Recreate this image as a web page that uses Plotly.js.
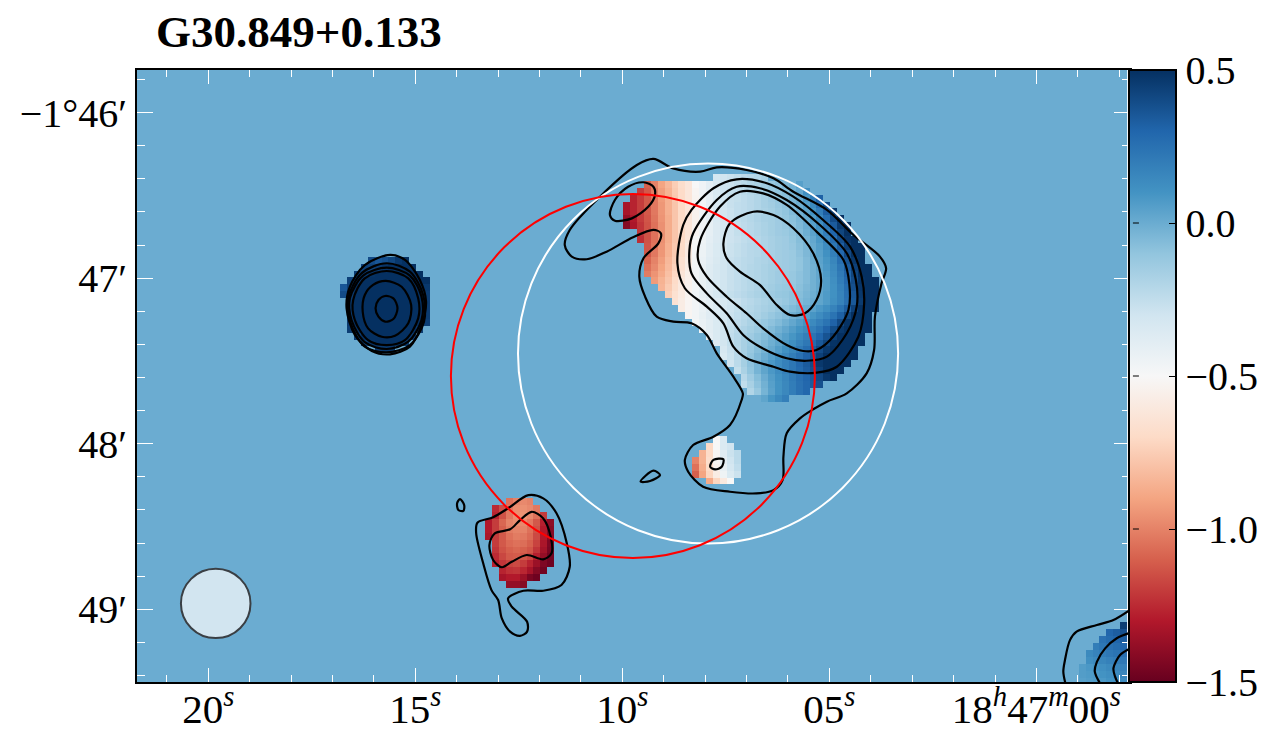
<!DOCTYPE html>
<html>
<head>
<meta charset="utf-8">
<script src="https://cdn.plot.ly/plotly-3.0.1.min.js"></script>
<style>
html, body { margin: 0; padding: 0; background: #fff; }
</style>
</head>
<body>
<div id="chart" style="width:1280px;height:745px"></div>
<script>
// Velocity map values, one list per row
const mainStart = [13,3,2,1,0,0,0,0,2,2,3,3,3,3,3,4,5,6,7,8,9,10,11,12,13,14,14,15,16,17,17,18,20];
const mainValues = [
  [-0.32,-0.3,-0.28,-0.26,-0.24,-0.22,-0.2,-0.17],
  [-1.1,-1.0,-0.9,-0.83,-0.75,-0.68,-0.62,-0.5,-0.46,-0.4,-0.34,-0.29,-0.28,-0.25,-0.23,-0.2,-0.18,-0.15,-0.12,-0.09,-0.05,-0.02,0.05],
  [-1.2,-1.12,-1.02,-0.92,-0.85,-0.76,-0.69,-0.62,-0.52,-0.46,-0.4,-0.34,-0.29,-0.26,-0.25,-0.23,-0.21,-0.19,-0.16,-0.13,-0.1,-0.07,-0.03,0.02,0.12],
  [-1.27,-1.2,-1.12,-1.03,-0.93,-0.86,-0.77,-0.69,-0.62,-0.53,-0.47,-0.41,-0.35,-0.3,-0.27,-0.26,-0.24,-0.22,-0.2,-0.17,-0.14,-0.11,-0.08,-0.04,0.0,0.08,0.2,0.32],
  [-1.33,-1.27,-1.2,-1.12,-1.03,-0.94,-0.86,-0.78,-0.7,-0.62,-0.54,-0.47,-0.41,-0.35,-0.3,-0.27,-0.25,-0.24,-0.22,-0.2,-0.17,-0.15,-0.12,-0.09,-0.05,-0.01,0.05,0.14,0.26,0.4],
  [-1.33,-1.27,-1.2,-1.12,-1.03,-0.94,-0.86,-0.78,-0.7,-0.63,-0.54,-0.47,-0.41,-0.35,-0.31,-0.28,-0.25,-0.24,-0.22,-0.2,-0.18,-0.16,-0.13,-0.1,-0.06,-0.02,0.03,0.1,0.2,0.33,0.46],
  [-1.38,-1.3,-1.2,-1.13,-1.04,-0.95,-0.87,-0.78,-0.7,-0.63,-0.54,-0.47,-0.41,-0.35,-0.31,-0.28,-0.25,-0.23,-0.21,-0.19,-0.17,-0.16,-0.14,-0.11,-0.08,-0.04,0.01,0.07,0.15,0.27,0.4,0.5],
  [-1.42,-1.32,-1.22,-1.14,-1.05,-0.96,-0.87,-0.78,-0.7,-0.63,-0.54,-0.47,-0.41,-0.36,-0.32,-0.29,-0.26,-0.24,-0.22,-0.2,-0.18,-0.16,-0.14,-0.12,-0.09,-0.05,0,0.05,0.12,0.22,0.34,0.46,0.5],
  [-1.22,-1.14,-1.05,-0.96,-0.87,-0.78,-0.7,-0.63,-0.52,-0.46,-0.41,-0.36,-0.32,-0.29,-0.26,-0.24,-0.22,-0.2,-0.18,-0.16,-0.14,-0.13,-0.1,-0.06,-0.01,0.04,0.1,0.19,0.3,0.42,0.5],
  [-1.24,-1.14,-1.05,-0.96,-0.87,-0.78,-0.7,-0.62,-0.5,-0.45,-0.4,-0.36,-0.32,-0.29,-0.27,-0.25,-0.23,-0.21,-0.19,-0.17,-0.15,-0.14,-0.11,-0.07,-0.03,0.02,0.08,0.16,0.26,0.38,0.48,0.5],
  [-1.13,-1.04,-0.95,-0.86,-0.77,-0.69,-0.6,-0.49,-0.44,-0.39,-0.35,-0.31,-0.28,-0.26,-0.24,-0.22,-0.21,-0.19,-0.17,-0.15,-0.14,-0.12,-0.08,-0.04,0.01,0.06,0.13,0.22,0.33,0.45,0.5,0.5],
  [-1.12,-1.03,-0.94,-0.85,-0.76,-0.68,-0.59,-0.49,-0.44,-0.39,-0.35,-0.31,-0.28,-0.26,-0.24,-0.22,-0.21,-0.19,-0.17,-0.15,-0.14,-0.13,-0.09,-0.05,0,0.05,0.11,0.19,0.29,0.41,0.5,0.5],
  [-1.08,-1.0,-0.92,-0.83,-0.75,-0.66,-0.58,-0.48,-0.43,-0.38,-0.34,-0.3,-0.27,-0.25,-0.23,-0.22,-0.2,-0.19,-0.17,-0.15,-0.14,-0.13,-0.1,-0.06,-0.01,0.04,0.09,0.16,0.26,0.37,0.47,0.5],
  [-1.05,-0.98,-0.9,-0.82,-0.73,-0.65,-0.57,-0.47,-0.42,-0.37,-0.33,-0.3,-0.27,-0.25,-0.23,-0.21,-0.2,-0.18,-0.16,-0.15,-0.14,-0.13,-0.1,-0.06,-0.02,0.03,0.08,0.14,0.23,0.34,0.44,0.5,0.5],
  [-1.02,-0.95,-0.88,-0.8,-0.71,-0.63,-0.56,-0.47,-0.42,-0.37,-0.33,-0.3,-0.27,-0.25,-0.23,-0.21,-0.2,-0.18,-0.16,-0.14,-0.13,-0.12,-0.09,-0.06,-0.02,0.02,0.07,0.13,0.21,0.31,0.42,0.5,0.5],
  [-0.93,-0.85,-0.78,-0.69,-0.61,-0.55,-0.47,-0.42,-0.37,-0.33,-0.3,-0.27,-0.25,-0.23,-0.21,-0.2,-0.18,-0.16,-0.14,-0.13,-0.12,-0.09,-0.06,-0.02,0.02,0.06,0.12,0.2,0.29,0.4,0.49,0.5,0.5],
  [-0.84,-0.76,-0.68,-0.6,-0.54,-0.47,-0.42,-0.38,-0.34,-0.3,-0.27,-0.25,-0.23,-0.21,-0.19,-0.17,-0.15,-0.13,-0.12,-0.11,-0.08,-0.05,-0.02,0.02,0.06,0.11,0.18,0.27,0.38,0.48,0.5,0.5],
  [-0.74,-0.66,-0.59,-0.53,-0.46,-0.41,-0.37,-0.33,-0.29,-0.26,-0.24,-0.22,-0.2,-0.18,-0.16,-0.14,-0.12,-0.11,-0.09,-0.07,-0.04,-0.01,0.03,0.07,0.11,0.17,0.26,0.36,0.47,0.5,0.5],
  [-0.65,-0.58,-0.52,-0.47,-0.43,-0.4,-0.36,-0.33,-0.3,-0.27,-0.24,-0.22,-0.2,-0.18,-0.16,-0.14,-0.12,-0.09,-0.06,-0.03,0,0.03,0.07,0.12,0.17,0.25,0.35,0.46,0.5,0.5],
  [-0.58,-0.52,-0.47,-0.43,-0.39,-0.36,-0.32,-0.29,-0.26,-0.23,-0.21,-0.19,-0.17,-0.15,-0.12,-0.09,-0.06,-0.03,0,0.04,0.08,0.12,0.17,0.24,0.33,0.44,0.5,0.5,0.5],
  [-0.52,-0.47,-0.42,-0.38,-0.35,-0.31,-0.28,-0.25,-0.22,-0.2,-0.18,-0.15,-0.12,-0.09,-0.06,-0.02,0.01,0.05,0.09,0.13,0.18,0.24,0.32,0.42,0.5,0.5,0.5],
  [-0.48,-0.43,-0.39,-0.35,-0.31,-0.27,-0.24,-0.21,-0.18,-0.15,-0.12,-0.09,-0.06,-0.02,0.02,0.06,0.1,0.14,0.19,0.24,0.31,0.4,0.49,0.5,0.5,0.5],
  [-0.44,-0.39,-0.35,-0.3,-0.26,-0.22,-0.19,-0.16,-0.13,-0.1,-0.06,-0.02,0.02,0.06,0.1,0.14,0.19,0.24,0.31,0.39,0.47,0.5,0.5,0.5,0.5],
  [-0.4,-0.35,-0.3,-0.25,-0.21,-0.17,-0.14,-0.1,-0.07,-0.03,0.01,0.05,0.09,0.14,0.19,0.24,0.3,0.37,0.45,0.5,0.5,0.5,0.5],
  [-0.36,-0.31,-0.26,-0.21,-0.17,-0.13,-0.09,-0.05,-0.01,0.03,0.07,0.12,0.17,0.22,0.28,0.35,0.42,0.49,0.5,0.5,0.5,0.5],
  [-0.33,-0.27,-0.22,-0.17,-0.12,-0.07,-0.03,0.01,0.06,0.11,0.16,0.21,0.27,0.33,0.4,0.47,0.5,0.5,0.5,0.5],
  [-0.35,-0.28,-0.22,-0.16,-0.1,-0.05,0,0.05,0.1,0.15,0.2,0.25,0.31,0.37,0.44,0.5,0.5,0.5,0.5,0.5],
  [-0.3,-0.23,-0.16,-0.09,-0.03,0.03,0.08,0.13,0.18,0.23,0.29,0.34,0.4,0.47,0.5,0.5,0.5,0.5],
  [-0.26,-0.18,-0.1,-0.03,0.03,0.08,0.13,0.18,0.23,0.28,0.33,0.38,0.44,0.5,0.5,0.5],
  [-0.22,-0.14,-0.07,0,0.06,0.11,0.16,0.21,0.26,0.3,0.35,0.41,0.47,0.5],
  [-0.25,-0.17,-0.09,-0.02,0.05,0.1,0.15,0.2,0.25,0.29,0.34,0.38],
  [-0.2,-0.12,-0.03,0.04,0.1,0.15,0.2,0.25,0.29],
  [0.03,0.09,0.14,0.19]
];

const knotStart = [4,3,2,1,0,0,1,1,1,1,1,2,3,5];
const knotValues = [
  [0.4,0.36,0.38,0.42,0.47,0.5],
  [0.44,0.43,0.46,0.48,0.5,0.5,0.5,0.5],
  [0.45,0.47,0.49,0.5,0.5,0.5,0.5,0.5,0.5,0.5],
  [0.44,0.47,0.5,0.5,0.5,0.5,0.5,0.5,0.5,0.5,0.5,0.5],
  [0.36,0.45,0.5,0.5,0.5,0.5,0.5,0.5,0.5,0.5,0.5,0.5,0.47],
  [0.4,0.46,0.5,0.5,0.5,0.5,0.5,0.5,0.5,0.5,0.5,0.5,0.46],
  [0.47,0.5,0.5,0.5,0.5,0.5,0.5,0.5,0.5,0.5,0.5,0.46],
  [0.47,0.5,0.5,0.5,0.5,0.5,0.5,0.5,0.5,0.5,0.5,0.46],
  [0.47,0.5,0.5,0.5,0.5,0.5,0.5,0.5,0.5,0.5,0.5,0.46],
  [0.46,0.5,0.5,0.5,0.5,0.5,0.5,0.5,0.5,0.5,0.5,0.45],
  [0.45,0.49,0.5,0.5,0.5,0.5,0.5,0.5,0.5,0.5,0.46],
  [0.45,0.5,0.5,0.5,0.5,0.5,0.5,0.5,0.46],
  [0.45,0.49,0.5,0.5,0.5,0.5,0.46],
  [0.46,0.47,0.47]
];

const southStart = [3,1,1,0,0,0,1,1,1,1,2,2,3];
const southValues = [
  [-1.05,-1.0,-0.98,-1.0],
  [-1.25,-1.15,-1.03,-0.97,-0.96,-0.98,-1.03],
  [-1.27,-1.14,-1.03,-0.96,-0.95,-0.98,-1.05,-1.2],
  [-1.3,-1.2,-1.08,-1.0,-0.97,-0.98,-1.03,-1.12,-1.28,-1.4],
  [-1.3,-1.2,-1.1,-1.02,-1.0,-1.0,-1.05,-1.14,-1.3,-1.42],
  [-1.32,-1.2,-1.12,-1.05,-1.02,-1.03,-1.07,-1.16,-1.3,-1.42],
  [-1.2,-1.12,-1.07,-1.05,-1.06,-1.1,-1.18,-1.32,-1.44],
  [-1.22,-1.14,-1.1,-1.08,-1.1,-1.13,-1.22,-1.34,-1.45],
  [-1.25,-1.17,-1.12,-1.11,-1.13,-1.17,-1.28,-1.38,-1.47],
  [-1.28,-1.22,-1.18,-1.16,-1.2,-1.27,-1.36,-1.44,-1.48],
  [-1.27,-1.23,-1.22,-1.26,-1.33,-1.42,-1.47],
  [-1.33,-1.3,-1.3,-1.36,-1.45,-1.48],
  [-1.38,-1.38,-1.42]
];

const tailStart = [3,2,1,0,0,0,2];
const tailValues = [
  [-0.5,-0.35],
  [-0.7,-0.5,-0.35,-0.3],
  [-0.85,-0.7,-0.52,-0.38,-0.28,-0.23],
  [-1.0,-0.85,-0.68,-0.53,-0.4,-0.3,-0.23],
  [-1.05,-0.87,-0.7,-0.55,-0.42,-0.32,-0.25],
  [-1.1,-0.9,-0.72,-0.58,-0.45,-0.35,-0.28],
  [-0.88,-0.72,-0.6,-0.5]
];

const cornerStart = [6,4,3,2,1,1,0,0,0];
const cornerValues = [
  [0.45,0.5],
  [0.3,0.33,0.38,0.45],
  [0.25,0.28,0.3,0.33,0.38],
  [0.2,0.23,0.25,0.27,0.3,0.33],
  [0.14,0.17,0.2,0.22,0.24,0.26,0.28],
  [0.12,0.14,0.16,0.18,0.2,0.22,0.24],
  [0.06,0.08,0.1,0.12,0.14,0.16,0.18,0.2],
  [0.06,0.07,0.08,0.1,0.12,0.14,0.16,0.17],
  [0.05,0.06,0.07,0.08,0.1,0.11,0.13,0.14]
];

// Contours: RA seconds past 18h47m, Dec in arcmin from 0 deg
const outerRa = [9.25,8.77,8.12,7.72,7.00,6.35,5.87,5.06,4.42,3.78,3.63,3.74,3.90,3.92,4.10,4.58,5.06,5.39,5.71,6.03,6.11,6.13,6.35,6.76,7.40,8.05,8.41,8.49,8.29,7.80,7.40,7.12,7.09,7.32,7.72,7.96,8.33,8.77,9.17,9.45,9.59,9.49,9.13,9.07,9.25,9.74,10.38,10.86,11.22,11.39,11.27,10.54,9.65,9.25];
const outerDec = [-106.280,-106.337,-106.357,-106.331,-106.347,-106.397,-106.478,-106.588,-106.739,-106.870,-106.941,-107.031,-107.233,-107.434,-107.575,-107.696,-107.746,-107.792,-107.847,-107.937,-108.078,-108.219,-108.280,-108.300,-108.290,-108.260,-108.169,-108.098,-108.008,-107.958,-107.887,-107.736,-107.696,-107.595,-107.454,-107.343,-107.273,-107.263,-107.233,-107.112,-106.991,-106.880,-106.790,-106.729,-106.709,-106.753,-106.840,-106.886,-106.870,-106.800,-106.709,-106.508,-106.317,-106.280];
const lobeRa = [9.49,9.25,9.21,9.37,9.77,10.18,10.30,10.18,9.86,9.49];
const lobeDec = [-106.421,-106.448,-106.498,-106.568,-106.639,-106.653,-106.619,-106.528,-106.448,-106.421];
const shellCRa = [7.24,6.51,5.87,5.15,4.50,4.22,4.16,4.30,4.82,5.31,5.95,6.35,7.00,7.32,7.56,7.96,8.49,8.67,8.53,8.33,7.80,7.24];
const shellCDec = [-106.403,-106.427,-106.508,-106.649,-106.810,-106.991,-107.152,-107.354,-107.535,-107.571,-107.565,-107.535,-107.484,-107.414,-107.273,-107.172,-107.061,-106.910,-106.679,-106.588,-106.457,-106.403];
const shellDRa = [7.24,6.68,6.03,5.23,4.58,4.36,4.34,4.58,5.06,5.55,6.03,6.68,7.08,7.48,7.96,8.33,8.38,8.29,7.72,7.24];
const shellDDec = [-106.448,-106.457,-106.528,-106.679,-106.850,-107.011,-107.172,-107.333,-107.474,-107.499,-107.484,-107.414,-107.343,-107.212,-107.092,-106.971,-106.830,-106.729,-106.528,-106.448];
const shellERa = [7.16,6.60,6.03,5.31,4.66,4.52,4.54,4.91,5.31,5.63,6.03,6.60,7.00,7.48,7.96,8.17,8.12,7.64,7.16];
const shellEDec = [-106.478,-106.488,-106.558,-106.719,-106.890,-107.031,-107.192,-107.354,-107.434,-107.440,-107.404,-107.303,-107.212,-107.112,-106.991,-106.890,-106.770,-106.568,-106.478];
const peakRa = [6.84,6.35,5.87,5.39,5.20,5.31,5.59,5.95,6.27,6.68,7.16,7.48,7.56,7.40,6.84];
const peakDec = [-106.599,-106.619,-106.699,-106.850,-107.011,-107.132,-107.212,-107.223,-107.162,-107.041,-106.961,-106.880,-106.790,-106.669,-106.599];
const tailSpotRa = [7.88,7.80,7.56,7.60,7.76,7.88];
const tailSpotDec = [-108.139,-108.098,-108.094,-108.139,-108.155,-108.139];
const sliverRa = [9.56,9.25,9.09,9.33,9.56];
const sliverDec = [-108.229,-108.163,-108.189,-108.225,-108.229];
const southOuterRa = [12.27,11.91,11.59,11.34,11.27,11.47,11.91,12.39,12.76,12.67,12.30,12.30,12.47,12.71,12.91,13.00,13.16,13.36,13.53,13.50,13.12,12.76,12.27];
const southOuterDec = [-108.310,-108.330,-108.420,-108.602,-108.743,-108.853,-108.888,-108.888,-108.934,-108.984,-109.075,-109.135,-109.160,-109.135,-109.055,-108.944,-108.884,-108.722,-108.541,-108.477,-108.444,-108.390,-108.310];
const southInnerRa = [12.19,11.91,11.73,11.71,11.91,12.31,12.67,12.91,13.12,13.21,13.08,12.71,12.47,12.19];
const southInnerDec = [-108.411,-108.451,-108.562,-108.662,-108.698,-108.672,-108.713,-108.746,-108.702,-108.612,-108.541,-108.517,-108.461,-108.411];
const speckRa = [13.92,13.82,13.84,13.96,13.99,13.92];
const speckDec = [-108.334,-108.370,-108.405,-108.400,-108.360,-108.334];
const knot1Ra = [15.73,15.53,15.43,15.53,15.73,15.89,15.96,15.89,15.73];
const knot1Dec = [-107.108,-107.122,-107.182,-107.247,-107.263,-107.233,-107.182,-107.132,-107.108];
const knot2Ra = [15.71,15.33,15.10,15.17,15.49,15.81,16.14,16.27,16.22,16.02,15.71];
const knot2Dec = [-107.017,-107.052,-107.162,-107.273,-107.348,-107.354,-107.303,-107.203,-107.102,-107.041,-107.017];
const knot3Ra = [15.69,15.17,14.93,14.93,15.25,15.69,16.14,16.46,16.50,16.22,15.69];
const knot3Dec = [-106.957,-107.001,-107.122,-107.243,-107.374,-107.404,-107.374,-107.253,-107.132,-107.001,-106.957];
const knot4Ra = [15.69,15.13,14.85,14.85,15.17,15.69,16.22,16.54,16.58,16.26,15.69];
const knot4Dec = [-106.937,-106.985,-107.112,-107.253,-107.384,-107.428,-107.387,-107.253,-107.122,-106.985,-106.937];
const knot5Ra = [15.69,15.13,14.81,14.79,15.13,15.69,16.22,16.56,16.62,16.30,15.69];
const knot5Dec = [-106.910,-106.961,-107.102,-107.263,-107.404,-107.448,-107.414,-107.273,-107.122,-106.971,-106.910];
const knot6Ra = [15.61,15.25,14.89,14.74,14.85,15.13,15.61,16.05,16.46,16.66,16.58,16.22,15.61];
const knot6Dec = [-106.860,-106.890,-107.011,-107.142,-107.283,-107.414,-107.460,-107.440,-107.343,-107.182,-107.052,-106.921,-106.860];
const corner1Ra = [-2.26,-1.86,-1.46,-0.97,-0.81,-0.69,-0.65,-0.71];
const corner1Dec = [-109.004,-109.065,-109.095,-109.135,-109.186,-109.306,-109.377,-109.457];
const corner2Ra = [-2.26,-1.94,-1.66,-1.46,-1.41,-1.56];
const corner2Dec = [-109.142,-109.175,-109.236,-109.317,-109.377,-109.457];
const corner3Ra = [-2.26,-2.02,-1.86,-1.90,-1.99];
const corner3Dec = [-109.236,-109.276,-109.356,-109.407,-109.457];

const xTicks = [20, 15, 10, 5, 0];
const xLabels = ["20<sup><i>s</i></sup>", "15<sup><i>s</i></sup>", "10<sup><i>s</i></sup>", "05<sup><i>s</i></sup>", "18<sup><i>h</i></sup>47<sup><i>m</i></sup>00<sup><i>s</i></sup>"];
const yTicks = [-106, -107, -108, -109];
const yLabels = ["\u22121\u00b046\u2032", "47\u2032", "48\u2032", "49\u2032"];
const barTicks = [-1.5, -1.0, -0.5, 0.0, 0.5];

const rdBu = [
  [0, "#67001f"], [0.1, "#b2182b"], [0.2, "#d6604d"], [0.3, "#f4a582"], [0.4, "#fddbc7"],
  [0.5, "#f7f7f7"], [0.6, "#d1e5f0"], [0.7, "#92c5de"], [0.8, "#4393c3"], [0.9, "#2166ac"], [1, "#053061"]
];

// map grid, 2.5 arcsec pixels, blank sky is 0
const nCols = 144, nRows = 90;
const z = [];
for (let r = 0; r < nRows; r++) z.push(new Array(nCols).fill(0));

function paint(col, row, starts, values) {
  values.forEach((vals, r) => {
    vals.forEach((v, c) => {
      const i = col + starts[r] + c, j = row + r;
      if (j < nRows && i < nCols) z[j][i] = v;
    });
  });
}
paint(71, 16, mainStart, mainValues);
paint(30, 28, knotStart, knotValues);
paint(51, 63, southStart, southValues);
paint(81, 54, tailStart, tailValues);
paint(137, 81, cornerStart, cornerValues);

var traces = [{
  type: "heatmap",
  z: z,
  x0: 21.732,
  dx: -0.16664,
  y0: -105.725,
  dy: -0.041667,
  zmin: -1.5,
  zmax: 0.5,
  colorscale: rdBu,
  hoverinfo: "skip",
  colorbar: {
    x: 0.9985, xanchor: "left", xpad: 0,
    y: 0.5, yanchor: "middle", ypad: 0,
    len: 1, lenmode: "fraction",
    thickness: 47, thicknessmode: "pixels",
    outlinecolor: "black", outlinewidth: 2,
    tickmode: "array", tickvals: barTicks,
    ticktext: ["\u22121.5", "\u22121.0", "\u22120.5", "0.0", "0.5"],
    ticks: "inside", ticklen: 8, tickwidth: 1, tickcolor: "black",
    tickfont: { family: "Liberation Serif", size: 40, color: "black" }
  }
}];

var contours = [
  [outerRa, outerDec], [lobeRa, lobeDec], [shellCRa, shellCDec], [shellDRa, shellDDec], [shellERa, shellEDec],
  [peakRa, peakDec], [tailSpotRa, tailSpotDec], [sliverRa, sliverDec], [southOuterRa, southOuterDec],
  [southInnerRa, southInnerDec], [speckRa, speckDec], [knot1Ra, knot1Dec], [knot2Ra, knot2Dec], [knot3Ra, knot3Dec],
  [knot4Ra, knot4Dec], [knot5Ra, knot5Dec], [knot6Ra, knot6Dec], [corner1Ra, corner1Dec], [corner2Ra, corner2Dec],
  [corner3Ra, corner3Dec]
];
contours.forEach(function (c) {
  traces.push({
    type: "scatter", mode: "lines", x: c[0], y: c[1], hoverinfo: "skip", showlegend: false,
    line: { color: "black", width: 2.2, shape: "spline", smoothing: 0.9 }
  });
});

var shapes = [
  { type: "circle", xref: "x", yref: "y", layer: "above", x0: 12.52, x1: 3.34, y0: -106.308, y1: -108.603, line: { color: "white", width: 2 } },
  { type: "circle", xref: "x", yref: "y", layer: "above", x0: 14.14, x1: 5.35, y0: -106.492, y1: -108.690, line: { color: "red", width: 2 } },
  { type: "circle", xref: "x", yref: "y", layer: "above", x0: 20.66, x1: 18.98, y0: -108.755, y1: -109.174, fillcolor: "#d2e5f0", line: { color: "#3a3f44", width: 2 } }
];

// mirrored colorbar ticks on the left edge of the bar
var barMirror = barTicks.slice(1, -1).map(function (v) {
  return {
    xref: "paper", yref: "paper", x: 1.009, y: (v + 1.5) / 2,
    ax: -9, ay: 0, text: " ", showarrow: true, arrowhead: 0, arrowwidth: 1, arrowcolor: "black", standoff: 0
  };
});

var layout = {
  width: 1280,
  height: 745,
  margin: { l: 137, r: 150, t: 70, b: 63, pad: 0 },
  paper_bgcolor: "white",
  plot_bgcolor: "white",
  showlegend: false,
  title: {
    text: "<b>G30.849+0.133</b>",
    font: { family: "Liberation Serif", size: 45, color: "black" },
    xref: "container", x: 156 / 1280, xanchor: "left",
    yref: "container", y: 1 - 31 / 745, yanchor: "middle"
  },
  xaxis: {
    range: [21.721, -2.26],
    tickmode: "array", tickvals: xTicks, ticktext: xLabels,
    ticks: "inside", ticklen: 14, tickwidth: 1, tickcolor: "white",
    minor: { tickmode: "linear", tick0: 0, dtick: 1, ticks: "inside", ticklen: 7, tickwidth: 1, tickcolor: "white" },
    showline: true, linecolor: "black", linewidth: 2, mirror: "ticks",
    showgrid: false, zeroline: false,
    tickfont: { family: "Liberation Serif", size: 41, color: "black" },
    ticklabelstandoff: -10
  },
  yaxis: {
    range: [-109.439, -105.743],
    tickmode: "array", tickvals: yTicks, ticktext: yLabels,
    ticks: "inside", ticklen: 16, tickwidth: 1, tickcolor: "white",
    minor: { tickmode: "linear", tick0: 0, dtick: 0.2, ticks: "inside", ticklen: 8, tickwidth: 1, tickcolor: "white" },
    showline: true, linecolor: "black", linewidth: 2, mirror: "ticks",
    showgrid: false, zeroline: false,
    tickfont: { family: "Liberation Serif", size: 40, color: "black" }
  },
  shapes: shapes,
  annotations: barMirror
};

Plotly.newPlot("chart", traces, layout, { displayModeBar: false, responsive: false });
</script>
</body>
</html>
